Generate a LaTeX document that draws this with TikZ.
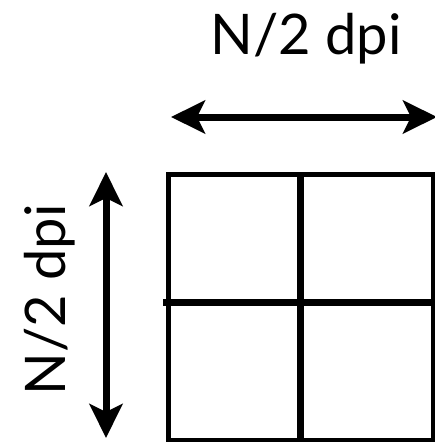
\documentclass[tikz,border=0pt]{standalone}
\usepackage{fontspec}
\setmainfont{Lato}
\usetikzlibrary{arrows.meta}
\begin{document}
\begin{tikzpicture}[x=1pt,y=-1pt,
  dimarrow/.style={line width=7pt,{Stealth[length=34pt,width=33pt,inset=8pt]}-{Stealth[length=34pt,width=33pt,inset=8pt]}},
  frame/.style={line width=5pt},
  divider/.style={line width=7pt},
  lbl/.style={font=\fontsize{56}{58}\selectfont, inner sep=0pt}]
\useasboundingbox (0,0) rectangle (435,442);
% grid
\coordinate (tl) at (168,174.5);
\coordinate (br) at (433,440);
\draw[frame] (tl) rectangle (br);
\coordinate (vt) at (300,172);
\coordinate (vb) at (300,440);
\draw[divider] (vt) -- (vb);
\coordinate (hl) at (163,302);
\coordinate (hr) at (433,302);
\draw[divider] (hl) -- (hr);
% horizontal dimension
\coordinate (ha) at (171,117);
\coordinate (hb) at (437,117);
\draw[dimarrow] (ha) -- (hb);
\node[lbl, anchor=base] (ht) at (306,54) {N/2 dpi};
% vertical dimension
\coordinate (va) at (106,172);
\coordinate (vb2) at (106,438);
\draw[dimarrow] (va) -- (vb2);
\node[lbl, anchor=base, rotate=90] (vtx) at (65,300) {N/2 dpi};
\end{tikzpicture}
\end{document}
